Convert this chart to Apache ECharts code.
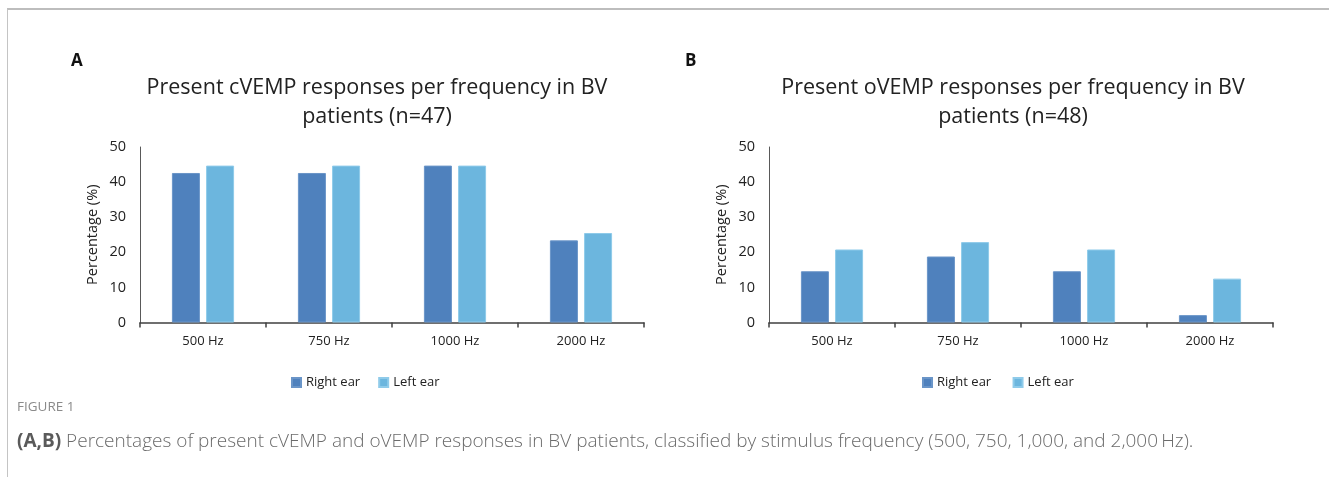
<!DOCTYPE html>
<html>
<head>
<meta charset="utf-8">
<script src="https://cdn.jsdelivr.net/npm/echarts@6/dist/echarts.min.js"></script>
<style>
  html, body { margin: 0; padding: 0; background: #fff; }
  #chart { position: absolute; left: 0; top: 0; width: 1329px; height: 477px; }
  .frame { position: absolute; left: 7px; top: 8px; width: 1322px; height: 467px;
           border-top: 2px solid #bdbdbd; border-left: 1px solid #c4c4c4; pointer-events: none; }
</style>
</head>
<body>
<div id="chart"></div>
<div class="frame"></div>
<script>
  var categories = ['500 Hz', '750 Hz', '1000 Hz', '2000 Hz'];
  var yTicks = [0, 10, 20, 30, 40, 50];
  // A: cVEMP (n=47)
  var cRight = [42.6, 42.6, 44.7, 23.4];
  var cLeft = [44.7, 44.7, 44.7, 25.5];
  // B: oVEMP (n=48)
  var oRight = [14.6, 18.8, 14.6, 2.1];
  var oLeft = [20.8, 22.9, 20.8, 12.5];

  var chartFont = '"Open Sans", "Noto Sans", sans-serif';
  var rightColor = '#4f81bd';
  var leftColor = '#6cb6de';

  function xAxisFor(idx) {
    return {
      type: 'category', gridIndex: idx, data: categories,
      axisLine: { lineStyle: { color: '#404040', width: 1.5 } },
      axisTick: { show: true, length: 5, lineStyle: { color: '#404040', width: 1.5 } },
      axisLabel: { color: '#222', fontSize: 13, fontFamily: chartFont, margin: 12 }
    };
  }
  function yAxisFor(idx) {
    return {
      type: 'value', gridIndex: idx, min: yTicks[0], max: yTicks[yTicks.length - 1], interval: 10,
      name: 'Percentage (%)', nameLocation: 'middle', nameGap: 40, nameRotate: 90,
      nameTextStyle: { color: '#222', fontSize: 14.5, fontFamily: chartFont },
      axisLine: { show: true, lineStyle: { color: '#595959', width: 1 } },
      axisTick: { show: false },
      splitLine: { show: false },
      axisLabel: { color: '#222', fontSize: 14.5, fontFamily: chartFont, margin: 14 }
    };
  }
  function barSeries(name, data, idx, color, border) {
    return {
      type: 'bar', name: name, data: data, xAxisIndex: idx, yAxisIndex: idx,
      barWidth: 28, barGap: '22%',
      itemStyle: { color: color, borderColor: border, borderWidth: 1 },
      emphasis: { disabled: true }
    };
  }

  var chart = echarts.init(document.getElementById('chart'));
  chart.setOption({
    animation: false,
    title: [
      { text: 'A', left: 66, top: 48, textStyle: { fontSize: 17, fontWeight: 'bold', color: '#111', fontFamily: chartFont } },
      { text: 'B', left: 680, top: 48, textStyle: { fontSize: 17, fontWeight: 'bold', color: '#111', fontFamily: chartFont } },
      { text: 'Present cVEMP responses per frequency in BV\npatients (n=47)', left: 372, top: 68, textAlign: 'center',
        textStyle: { fontSize: 21.5, fontWeight: 'normal', color: '#222', lineHeight: 29, fontFamily: chartFont } },
      { text: 'Present oVEMP responses per frequency in BV\npatients (n=48)', left: 1008, top: 68, textAlign: 'center',
        textStyle: { fontSize: 21.5, fontWeight: 'normal', color: '#222', lineHeight: 29, fontFamily: chartFont } }
    ],
    legend: [
      { data: ['Right ear', 'Left ear'], left: 286, top: 371, icon: 'rect', itemWidth: 9, itemHeight: 9, itemGap: 18,
        textStyle: { fontSize: 13, color: '#222', fontFamily: chartFont } },
      { data: ['Right ear ', 'Left ear '], left: 917, top: 371, icon: 'rect', itemWidth: 9, itemHeight: 9, itemGap: 18,
        textStyle: { fontSize: 13, color: '#222', fontFamily: chartFont } }
    ],
    grid: [
      { left: 140, top: 147, width: 504, height: 175.5 },
      { left: 769, top: 147, width: 504, height: 175.5 }
    ],
    xAxis: [xAxisFor(0), xAxisFor(1)],
    yAxis: [yAxisFor(0), yAxisFor(1)],
    series: [
      barSeries('Right ear', cRight, 0, rightColor, '#6a95c8'),
      barSeries('Left ear', cLeft, 0, leftColor, '#8fcbea'),
      barSeries('Right ear ', oRight, 1, rightColor, '#6a95c8'),
      barSeries('Left ear ', oLeft, 1, leftColor, '#8fcbea')
    ],
    graphic: [
      { type: 'text', left: 17, top: 400, style: { text: 'FIGURE 1', fontSize: 13.5, fill: '#8a8a8a', fontFamily: chartFont } },
      { type: 'text', left: 17, top: 432, style: {
          text: '{b|(A,B)} Percentages of present cVEMP and oVEMP responses in BV patients, classified by stimulus frequency (500, 750, 1,000, and 2,000\u2009Hz).',
          fontSize: 19, fontWeight: 300, fill: '#6b6b6b', fontFamily: chartFont,
          rich: { b: { fontSize: 19, fontWeight: 'bold', fill: '#5a5a5a', fontFamily: chartFont } }
      } }
    ]
  });
</script>
</body>
</html>
